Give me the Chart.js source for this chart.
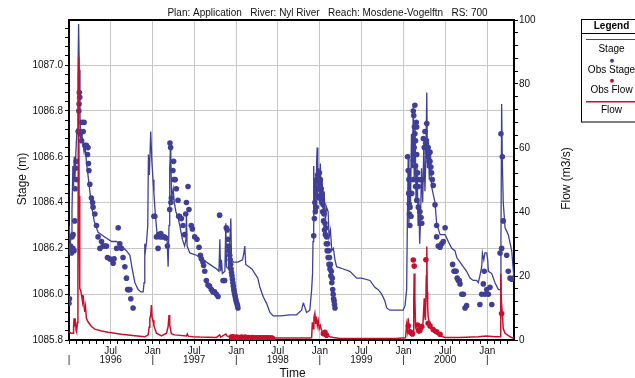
<!DOCTYPE html>
<html>
<head>
<meta charset="utf-8">
<title>Stage and Flow - Nyl River RS 700</title>
<script src="https://cdn.jsdelivr.net/npm/chart.js@4.4.1/dist/chart.umd.min.js"></script>
<style>
  html, body { margin: 0; padding: 0; background: #fff; }
  canvas { display: block; }
</style>
</head>
<body>
<canvas id="stage-chart" width="635" height="378"></canvas>
<script>
// values: [date, value]
const stageLine = [
  ['1996-01-02', 1086.30], ['1996-01-06', 1086.21], ['1996-01-10', 1086.26], ['1996-01-14', 1086.36],
  ['1996-01-18', 1086.56], ['1996-01-21', 1086.47], ['1996-01-24', 1086.60], ['1996-01-27', 1086.50],
  ['1996-01-31', 1086.62], ['1996-02-05', 1086.72], ['1996-02-09', 1086.95], ['1996-02-12', 1087.18],
  ['1996-02-15', 1086.98], ['1996-02-18', 1086.78], ['1996-02-22', 1086.66], ['1996-02-26', 1086.70],
  ['1996-03-02', 1086.66], ['1996-03-07', 1086.62], ['1996-03-12', 1086.64], ['1996-03-17', 1086.58],
  ['1996-03-24', 1086.52], ['1996-04-01', 1086.45], ['1996-04-08', 1086.39], ['1996-04-20', 1086.32],
  ['1996-05-07', 1086.27], ['1996-06-05', 1086.25], ['1996-07-05', 1086.23], ['1996-07-27', 1086.23],
  ['1996-08-17', 1086.21], ['1996-09-08', 1086.19], ['1996-09-23', 1086.17], ['1996-10-03', 1086.11],
  ['1996-10-15', 1086.05], ['1996-10-29', 1086.02], ['1996-11-10', 1086.01], ['1996-11-20', 1086.01],
  ['1996-11-24', 1086.05], ['1996-11-27', 1086.22], ['1996-11-30', 1086.19], ['1996-12-05', 1086.23],
  ['1996-12-10', 1086.30], ['1996-12-13', 1086.61], ['1996-12-17', 1086.52], ['1996-12-23', 1086.71],
  ['1996-12-28', 1086.58], ['1997-01-02', 1086.50], ['1997-01-06', 1086.44], ['1997-01-12', 1086.35],
  ['1997-01-20', 1086.26], ['1997-02-05', 1086.26], ['1997-02-25', 1086.25], ['1997-03-05', 1086.23],
  ['1997-03-09', 1086.12], ['1997-03-13', 1086.30], ['1997-03-16', 1086.55], ['1997-03-20', 1086.66],
  ['1997-03-24', 1086.42], ['1997-03-31', 1086.46], ['1997-04-05', 1086.40], ['1997-04-12', 1086.36],
  ['1997-04-20', 1086.34], ['1997-04-29', 1086.30], ['1997-05-10', 1086.24], ['1997-05-20', 1086.21],
  ['1997-05-26', 1086.24], ['1997-05-28', 1086.35], ['1997-05-31', 1086.21], ['1997-06-12', 1086.18],
  ['1997-07-11', 1086.17], ['1997-08-09', 1086.15], ['1997-09-07', 1086.13], ['1997-10-07', 1086.11],
  ['1997-10-17', 1086.10], ['1997-10-21', 1086.24], ['1997-10-24', 1086.10], ['1997-10-28', 1086.15],
  ['1997-11-01', 1086.09], ['1997-11-12', 1086.10], ['1997-11-16', 1086.31], ['1997-11-19', 1086.12],
  ['1997-11-28', 1086.11], ['1997-12-08', 1086.33], ['1997-12-11', 1086.15], ['1997-12-20', 1086.14],
  ['1998-01-08', 1086.14], ['1998-01-28', 1086.15], ['1998-02-03', 1086.18], ['1998-02-07', 1086.21],
  ['1998-02-11', 1086.13], ['1998-02-25', 1086.12], ['1998-03-10', 1086.11], ['1998-03-23', 1086.09],
  ['1998-04-05', 1086.07], ['1998-04-14', 1086.03], ['1998-04-28', 1085.99], ['1998-05-13', 1085.96],
  ['1998-05-28', 1085.92], ['1998-06-11', 1085.905], ['1998-07-15', 1085.905], ['1998-08-23', 1085.91],
  ['1998-09-21', 1085.91], ['1998-10-13', 1085.93], ['1998-10-20', 1085.96], ['1998-10-23', 1085.955],
  ['1998-11-04', 1085.92], ['1998-11-18', 1085.93], ['1998-11-26', 1086.02], ['1998-11-30', 1086.09],
  ['1998-12-02', 1086.23], ['1998-12-04', 1086.45], ['1998-12-06', 1086.56], ['1998-12-09', 1086.35],
  ['1998-12-12', 1086.50], ['1998-12-15', 1086.40], ['1998-12-18', 1086.58], ['1998-12-20', 1086.64],
  ['1998-12-23', 1086.45], ['1998-12-27', 1086.55], ['1998-12-31', 1086.40], ['1999-01-03', 1086.57],
  ['1999-01-07', 1086.42], ['1999-01-11', 1086.50], ['1999-01-16', 1086.35], ['1999-01-20', 1086.44],
  ['1999-01-25', 1086.32], ['1999-01-30', 1086.38], ['1999-02-06', 1086.36], ['1999-02-10', 1086.25],
  ['1999-02-16', 1086.28], ['1999-02-22', 1086.19], ['1999-03-01', 1086.20], ['1999-03-08', 1086.15],
  ['1999-03-15', 1086.12], ['1999-04-13', 1086.11], ['1999-05-12', 1086.10], ['1999-06-11', 1086.07],
  ['1999-07-02', 1086.07], ['1999-08-08', 1086.06], ['1999-08-29', 1086.03], ['1999-09-13', 1086.02],
  ['1999-09-28', 1086.00], ['1999-10-12', 1085.97], ['1999-10-20', 1085.94], ['1999-11-03', 1085.93],
  ['1999-12-31', 1085.93], ['2000-01-08', 1085.95], ['2000-01-15', 1086.02], ['2000-01-18', 1086.30],
  ['2000-01-22', 1086.61], ['2000-01-25', 1086.30], ['2000-01-28', 1086.55], ['2000-02-01', 1086.40],
  ['2000-02-05', 1086.70], ['2000-02-09', 1086.55], ['2000-02-13', 1086.82], ['2000-02-17', 1086.50],
  ['2000-02-21', 1086.72], ['2000-02-25', 1086.40], ['2000-03-01', 1086.55], ['2000-03-05', 1086.30],
  ['2000-03-08', 1086.42], ['2000-03-12', 1086.22], ['2000-03-16', 1086.34], ['2000-03-20', 1086.55],
  ['2000-03-25', 1086.40], ['2000-03-30', 1086.65], ['2000-04-04', 1086.45], ['2000-04-08', 1086.60],
  ['2000-04-12', 1086.88], ['2000-04-15', 1086.55], ['2000-04-19', 1086.68], ['2000-04-23', 1086.50],
  ['2000-04-28', 1086.62], ['2000-05-03', 1086.47], ['2000-05-18', 1086.40], ['2000-05-25', 1086.31],
  ['2000-06-09', 1086.26], ['2000-07-01', 1086.26], ['2000-07-15', 1086.23], ['2000-07-30', 1086.20],
  ['2000-08-13', 1086.19], ['2000-08-21', 1086.16], ['2000-09-04', 1086.14], ['2000-09-18', 1086.12],
  ['2000-10-03', 1086.10], ['2000-10-18', 1086.07], ['2000-11-01', 1086.06], ['2000-11-16', 1086.06],
  ['2000-11-23', 1086.05], ['2000-11-30', 1086.08], ['2000-12-08', 1086.12], ['2000-12-11', 1086.18],
  ['2000-12-17', 1086.15], ['2000-12-22', 1086.18], ['2000-12-30', 1086.18], ['2001-01-03', 1086.15],
  ['2001-01-06', 1086.10], ['2001-01-21', 1086.09], ['2001-02-04', 1086.05], ['2001-02-19', 1086.02],
  ['2001-02-26', 1086.02], ['2001-03-02', 1086.23], ['2001-03-05', 1086.83], ['2001-03-08', 1086.58],
  ['2001-03-12', 1086.40], ['2001-03-20', 1086.29], ['2001-04-03', 1086.26], ['2001-04-18', 1086.19],
  ['2001-04-27', 1086.08]
];

const obsStage = [
  ['1996-01-01', 1085.96], ['1996-01-03', 1085.98], ['1996-01-04', 1086.20], ['1996-01-08', 1086.21],
  ['1996-01-12', 1086.18], ['1996-01-14', 1086.25], ['1996-01-18', 1086.20], ['1996-01-19', 1086.26],
  ['1996-01-23', 1086.19], ['1996-01-26', 1086.32], ['1996-01-28', 1086.46], ['1996-01-30', 1086.55],
  ['1996-02-01', 1086.58], ['1996-02-03', 1086.50], ['1996-02-10', 1086.71], ['1996-02-13', 1086.80],
  ['1996-02-14', 1086.83], ['1996-02-15', 1086.88], ['1996-02-17', 1086.86], ['1996-02-19', 1086.70],
  ['1996-02-25', 1086.67], ['1996-02-27', 1086.75], ['1996-03-03', 1086.71], ['1996-03-07', 1086.75],
  ['1996-03-10', 1086.65], ['1996-03-17', 1086.65], ['1996-03-22', 1086.61], ['1996-03-24', 1086.64],
  ['1996-03-26', 1086.57], ['1996-03-28', 1086.54], ['1996-04-01', 1086.48], ['1996-04-08', 1086.42],
  ['1996-04-13', 1086.40], ['1996-04-15', 1086.38], ['1996-04-23', 1086.35], ['1996-04-30', 1086.30],
  ['1996-05-07', 1086.25], ['1996-05-15', 1086.20], ['1996-05-22', 1086.23], ['1996-05-29', 1086.21],
  ['1996-06-05', 1086.21], ['1996-06-13', 1086.21], ['1996-06-17', 1086.16], ['1996-06-27', 1086.155],
  ['1996-07-05', 1086.15], ['1996-07-12', 1086.135], ['1996-07-16', 1086.155], ['1996-07-27', 1086.20],
  ['1996-08-03', 1086.29], ['1996-08-10', 1086.22], ['1996-08-17', 1086.20], ['1996-08-24', 1086.16],
  ['1996-09-01', 1086.12], ['1996-09-08', 1086.07], ['1996-09-13', 1086.02], ['1996-09-18', 1086.02],
  ['1996-09-23', 1086.02], ['1996-09-27', 1085.98], ['1996-10-07', 1085.94],
  ['1997-01-06', 1086.34], ['1997-01-10', 1086.34], ['1997-01-17', 1086.25], ['1997-01-24', 1086.20],
  ['1997-01-27', 1086.26], ['1997-02-01', 1086.25], ['1997-02-05', 1086.265], ['1997-02-11', 1086.25],
  ['1997-02-20', 1086.25], ['1997-02-27', 1086.245], ['1997-03-06', 1086.21], ['1997-03-16', 1086.37],
  ['1997-03-17', 1086.66], ['1997-03-20', 1086.64], ['1997-03-21', 1086.40], ['1997-03-23', 1086.42],
  ['1997-03-30', 1086.54], ['1997-04-02', 1086.58], ['1997-04-03', 1086.50], ['1997-04-09', 1086.50],
  ['1997-04-14', 1086.46], ['1997-04-21', 1086.41], ['1997-04-24', 1086.34], ['1997-04-28', 1086.34],
  ['1997-05-06', 1086.33], ['1997-05-13', 1086.30], ['1997-05-20', 1086.26], ['1997-05-25', 1086.35],
  ['1997-05-28', 1086.40], ['1997-06-04', 1086.47], ['1997-06-08', 1086.37], ['1997-06-18', 1086.30],
  ['1997-06-23', 1086.285], ['1997-07-03', 1086.25], ['1997-07-13', 1086.24], ['1997-07-22', 1086.205],
  ['1997-07-28', 1086.17], ['1997-08-01', 1086.155], ['1997-08-08', 1086.14], ['1997-08-11', 1086.125],
  ['1997-08-16', 1086.10], ['1997-08-23', 1086.06], ['1997-08-30', 1086.04], ['1997-09-06', 1086.035],
  ['1997-09-14', 1086.02], ['1997-09-21', 1086.01], ['1997-09-28', 1086.01], ['1997-10-06', 1086.00],
  ['1997-10-13', 1085.99], ['1997-10-20', 1086.345], ['1997-11-04', 1086.06], ['1997-11-11', 1086.06],
  ['1997-11-18', 1086.29], ['1997-11-22', 1086.28], ['1997-11-25', 1086.24], ['1997-11-28', 1086.21],
  ['1997-12-01', 1086.19], ['1997-12-03', 1086.17], ['1997-12-05', 1086.15], ['1997-12-07', 1086.13],
  ['1997-12-09', 1086.11], ['1997-12-11', 1086.095], ['1997-12-13', 1086.08], ['1997-12-15', 1086.065],
  ['1997-12-17', 1086.05], ['1997-12-19', 1086.035], ['1997-12-21', 1086.02], ['1997-12-23', 1086.01],
  ['1997-12-25', 1086.00], ['1997-12-27', 1085.99], ['1997-12-29', 1085.98], ['1997-12-31', 1085.97],
  ['1998-01-03', 1085.96], ['1998-01-06', 1085.95], ['1998-01-08', 1085.94],
  ['1998-12-05', 1086.255], ['1998-12-08', 1086.33], ['1998-12-10', 1086.40], ['1998-12-12', 1086.36],
  ['1998-12-14', 1086.45], ['1998-12-16', 1086.38], ['1998-12-18', 1086.50], ['1998-12-20', 1086.43],
  ['1998-12-22', 1086.52], ['1998-12-24', 1086.46], ['1998-12-26', 1086.50], ['1998-12-28', 1086.42],
  ['1998-12-30', 1086.53], ['1999-01-01', 1086.47], ['1999-01-03', 1086.50], ['1999-01-05', 1086.42],
  ['1999-01-07', 1086.46], ['1999-01-09', 1086.40], ['1999-01-11', 1086.44], ['1999-01-13', 1086.36],
  ['1999-01-15', 1086.39], ['1999-01-17', 1086.32], ['1999-01-19', 1086.35], ['1999-01-21', 1086.28],
  ['1999-01-23', 1086.31], ['1999-01-25', 1086.26], ['1999-01-27', 1086.29], ['1999-01-29', 1086.22],
  ['1999-01-31', 1086.25], ['1999-02-02', 1086.19], ['1999-02-04', 1086.22], ['1999-02-06', 1086.16],
  ['1999-02-08', 1086.19], ['1999-02-10', 1086.13], ['1999-02-12', 1086.16], ['1999-02-14', 1086.11],
  ['1999-02-16', 1086.13], ['1999-02-18', 1086.08], ['1999-02-20', 1086.10], ['1999-02-22', 1086.05],
  ['1999-02-24', 1086.07], ['1999-02-26', 1086.02], ['1999-02-28', 1086.00], ['1999-03-02', 1085.98],
  ['1999-03-04', 1085.97], ['1999-03-06', 1085.955], ['1999-03-08', 1085.94],
  ['2000-01-19', 1086.60], ['2000-01-22', 1086.54], ['2000-01-24', 1086.44], ['2000-01-25', 1086.50],
  ['2000-01-26', 1086.395], ['2000-01-27', 1086.35], ['2000-01-29', 1086.30], ['2000-01-30', 1086.38],
  ['2000-02-03', 1086.34], ['2000-02-06', 1086.44], ['2000-02-13', 1086.80], ['2000-02-13', 1086.585],
  ['2000-02-13', 1086.50], ['2000-02-15', 1086.78], ['2000-02-17', 1086.64], ['2000-02-18', 1086.73],
  ['2000-02-20', 1086.825], ['2000-02-20', 1086.70], ['2000-02-23', 1086.67], ['2000-02-23', 1086.56],
  ['2000-02-23', 1086.47], ['2000-02-26', 1086.75], ['2000-02-28', 1086.73], ['2000-02-28', 1086.61],
  ['2000-02-28', 1086.41], ['2000-03-03', 1086.53], ['2000-03-06', 1086.47], ['2000-03-06', 1086.38],
  ['2000-03-09', 1086.50], ['2000-03-13', 1086.36], ['2000-03-18', 1086.335], ['2000-03-21', 1086.50],
  ['2000-03-21', 1086.31], ['2000-03-28', 1086.68], ['2000-04-01', 1086.64], ['2000-04-04', 1086.71],
  ['2000-04-07', 1086.66], ['2000-04-12', 1086.745], ['2000-04-15', 1086.62], ['2000-04-18', 1086.64],
  ['2000-04-18', 1086.60], ['2000-04-22', 1086.58], ['2000-04-26', 1086.62], ['2000-04-26', 1086.58],
  ['2000-04-30', 1086.555], ['2000-05-03', 1086.53], ['2000-05-06', 1086.50], ['2000-05-10', 1086.475],
  ['2000-05-18', 1086.39], ['2000-05-25', 1086.30], ['2000-05-25', 1086.25], ['2000-06-01', 1086.21],
  ['2000-06-09', 1086.205], ['2000-06-16', 1086.22], ['2000-06-23', 1086.23], ['2000-07-01', 1086.29],
  ['2000-08-03', 1086.13], ['2000-08-09', 1086.10], ['2000-08-13', 1086.10], ['2000-08-18', 1086.10],
  ['2000-08-23', 1086.07], ['2000-08-28', 1086.06], ['2000-09-01', 1086.06], ['2000-09-04', 1086.045],
  ['2000-09-12', 1086.00], ['2000-09-19', 1086.00], ['2000-09-26', 1085.94], ['2000-10-03', 1085.95],
  ['2000-11-30', 1085.955], ['2000-12-08', 1086.00], ['2000-12-15', 1086.045], ['2000-12-19', 1086.10],
  ['2000-12-22', 1086.00], ['2000-12-30', 1086.02], ['2001-01-06', 1086.00], ['2001-01-13', 1086.03],
  ['2001-01-21', 1085.955], ['2001-02-26', 1086.18], ['2001-03-02', 1086.70], ['2001-03-05', 1086.20],
  ['2001-03-08', 1086.60], ['2001-03-12', 1086.32], ['2001-03-27', 1086.17], ['2001-04-03', 1086.10],
  ['2001-04-11', 1086.07], ['2001-04-18', 1086.065], ['2001-04-25', 1086.07]
];

const flowLine = [
  ['1996-01-01', 2.6], ['1996-01-08', 2.2], ['1996-01-12', 2.1], ['1996-01-19', 2.1],
  ['1996-01-21', 4.0], ['1996-01-23', 6.8], ['1996-01-26', 5.0], ['1996-01-29', 5.7],
  ['1996-02-01', 3.0], ['1996-02-03', 2.6], ['1996-02-07', 5.5], ['1996-02-09', 20],
  ['1996-02-11', 70], ['1996-02-12', 88.5], ['1996-02-13', 80], ['1996-02-14', 45],
  ['1996-02-16', 25], ['1996-02-18', 16], ['1996-02-21', 15.6], ['1996-02-25', 14],
  ['1996-02-29', 12], ['1996-03-03', 14], ['1996-03-07', 10.4], ['1996-03-10', 8.8],
  ['1996-03-13', 10.4], ['1996-03-17', 6.8], ['1996-03-24', 5.7], ['1996-04-08', 4.2],
  ['1996-04-23', 3.4], ['1996-05-22', 2.8], ['1996-06-20', 2.4], ['1996-08-17', 1.8],
  ['1996-10-15', 1.3], ['1996-11-27', 1.0], ['1996-12-12', 1.6], ['1996-12-16', 4.0],
  ['1996-12-19', 6.8], ['1996-12-23', 7.8], ['1996-12-26', 10.9], ['1996-12-29', 7.0],
  ['1996-12-31', 6.5], ['1997-01-03', 6.2], ['1997-01-06', 4.5], ['1997-01-10', 3.6],
  ['1997-01-17', 2.1], ['1997-02-08', 1.3], ['1997-03-02', 2.1], ['1997-03-09', 4.2],
  ['1997-03-13', 7.8], ['1997-03-16', 4.7], ['1997-03-23', 2.0], ['1997-04-07', 1.6],
  ['1997-05-28', 1.25], ['1997-06-01', 1.9], ['1997-06-05', 1.2], ['1997-06-26', 1.0],
  ['1997-07-25', 0.9], ['1997-10-06', 0.8], ['1997-10-20', 1.6], ['1997-10-25', 0.9],
  ['1997-11-16', 1.9], ['1997-11-22', 1.2], ['1997-12-18', 1.0], ['1998-01-15', 0.7],
  ['1998-06-10', 0.6], ['1998-11-20', 0.6], ['1998-11-26', 0.8], ['1998-11-29', 5.5],
  ['1998-12-02', 3.5], ['1998-12-06', 7.0], ['1998-12-10', 8.3], ['1998-12-14', 5.0],
  ['1998-12-17', 7.3], ['1998-12-21', 4.5], ['1998-12-25', 6.0], ['1998-12-29', 3.5],
  ['1999-01-03', 4.5], ['1999-01-09', 2.8], ['1999-01-16', 2.0], ['1999-01-23', 2.4],
  ['1999-01-30', 1.5], ['1999-02-14', 1.0], ['1999-02-28', 0.8], ['1999-03-30', 0.5],
  ['1999-08-01', 0.5], ['1999-12-01', 0.5], ['2000-01-10', 0.7], ['2000-01-15', 4.7],
  ['2000-01-18', 3.0], ['2000-01-22', 6.8], ['2000-01-26', 3.5], ['2000-01-30', 3.1],
  ['2000-02-06', 1.6], ['2000-02-13', 2.1], ['2000-02-15', 12], ['2000-02-17', 20.8],
  ['2000-02-20', 13], ['2000-02-23', 4.2], ['2000-02-28', 2.6], ['2000-03-09', 2.1],
  ['2000-03-21', 2.6], ['2000-03-26', 5.0], ['2000-03-28', 7.3], ['2000-04-01', 13],
  ['2000-04-04', 7.3], ['2000-04-06', 6.2], ['2000-04-10', 20], ['2000-04-12', 29.2],
  ['2000-04-14', 15], ['2000-04-16', 10.4], ['2000-04-18', 7.3], ['2000-04-26', 4.2],
  ['2000-05-10', 2.6], ['2000-06-01', 1.6], ['2000-07-01', 0.8], ['2000-09-01', 0.8],
  ['2000-11-23', 1.0], ['2000-12-15', 1.2], ['2000-12-30', 1.25], ['2001-02-04', 1.0],
  ['2001-02-26', 1.0], ['2001-02-28', 5.0], ['2001-03-02', 20.8], ['2001-03-04', 12],
  ['2001-03-08', 8.3], ['2001-03-12', 3.6], ['2001-03-20', 2.1], ['2001-04-11', 1.0],
  ['2001-04-27', 0.5]
];

const obsFlow = [
  ['1997-12-10', 0.9], ['1997-12-14', 0.7], ['1997-12-18', 1.0], ['1997-12-22', 0.6],
  ['1997-12-26', 0.8], ['1997-12-30', 0.5], ['1998-01-03', 0.9], ['1998-01-07', 0.6],
  ['1998-01-11', 0.8], ['1998-01-15', 0.5], ['1998-01-19', 0.7], ['1998-01-23', 0.9],
  ['1998-01-27', 0.5], ['1998-01-31', 0.7], ['1998-02-04', 0.6], ['1998-02-08', 0.9],
  ['1998-02-12', 0.5], ['1998-02-16', 0.7], ['1998-02-20', 0.6], ['1998-02-24', 0.8],
  ['1998-02-28', 0.5], ['1998-03-04', 0.7], ['1998-03-08', 0.6], ['1998-03-12', 0.8],
  ['1998-03-16', 0.5], ['1998-03-20', 0.7], ['1998-03-24', 0.6], ['1998-03-28', 0.5],
  ['1998-04-01', 0.7], ['1998-04-05', 0.6], ['1998-04-09', 0.5], ['1998-04-13', 0.7],
  ['1998-04-17', 0.6], ['1998-04-21', 0.5], ['1998-04-25', 0.6], ['1998-04-29', 0.7],
  ['1998-05-03', 0.5], ['1998-05-07', 0.6], ['1998-05-11', 0.5], ['1998-05-15', 0.7],
  ['1998-05-19', 0.6], ['1998-05-23', 0.5], ['1998-05-27', 0.6], ['1998-05-31', 0.5],
  ['1998-06-04', 0.6], ['1998-06-08', 0.5],
  ['1999-01-16', 2.0], ['1999-01-23', 2.4], ['1999-01-30', 1.5],
  ['2000-01-22', 4.4], ['2000-01-30', 2.6], ['2000-02-03', 2.3], ['2000-02-09', 1.9],
  ['2000-02-13', 25.0], ['2000-02-17', 23.1], ['2000-03-03', 4.7], ['2000-03-09', 3.1],
  ['2000-03-21', 4.2], ['2000-04-08', 25.1], ['2000-04-18', 5.2], ['2000-04-26', 4.4],
  ['2000-05-10', 3.3], ['2000-05-25', 2.6], ['2000-06-09', 1.8],
  ['2001-03-05', 8.3]
];

const monthNames = { 0: 'Jan', 6: 'Jul' };
const titleText = 'Plan: Application   River: Nyl River   Reach: Mosdene-Vogelftn   RS: 700';

const BLUE = '#3f3f96';
const RED = '#c8102e';
const GRID = '#c6c6c6';
const FONT = '"Liberation Sans", Arial, Helvetica, sans-serif';

const T0 = Date.UTC(1996, 0, 1);
const T1 = Date.UTC(2001, 3, 28);

const toTime = (s) => {
  const [y, m, d] = s.split('-').map(Number);
  return Date.UTC(y, m - 1, d);
};
const toPoints = (rows) => rows.map(([d, v]) => ({ x: toTime(d), y: v }));

// axis ticks: every month on x, 0.04 m on stage, 4 m3/s on flow
const monthTicks = [];
for (let y = 1996; y <= 2001; y++) {
  for (let m = 0; m < 12; m++) {
    const t = Date.UTC(y, m, 1);
    if (t >= T0 && t <= T1) monthTicks.push(t);
  }
}
const stageTicks = [];
for (let i = 0; i <= 34; i++) stageTicks.push(+(1085.8 + i * 0.04).toFixed(2));
const flowTicks = [];
for (let v = 0; v <= 100; v += 4) flowTicks.push(v);

const isMajorStage = (v) => Math.round(v * 100) % 20 === 0;
const isMajorMonth = (t) => {
  const m = new Date(t).getUTCMonth();
  return m === 0 || m === 6;
};

const xLabel = (t) => {
  const d = new Date(t);
  const m = d.getUTCMonth(), y = d.getUTCFullYear();
  if (m === 0) return y === 1996 ? ['', '|'] : [monthNames[0], '|'];
  if (m === 6) return [monthNames[6], String(y)];
  return '';
};

const decorations = {
  id: 'decorations',
  afterDraw(chart) {
    const { ctx, chartArea: a } = chart;
    ctx.save();

    // top frame line
    ctx.strokeStyle = '#000';
    ctx.lineWidth = 2;
    ctx.beginPath();
    ctx.moveTo(a.left - 1, a.top);
    ctx.lineTo(a.right + 1, a.top);
    ctx.stroke();

    ctx.fillStyle = '#111';
    ctx.textBaseline = 'alphabetic';
    ctx.textAlign = 'center';
    ctx.font = '10px ' + FONT;
    ctx.fillText(titleText, 327.5, 16);

    ctx.font = '12px ' + FONT;
    ctx.fillText('Time', 292.5, 377);

    ctx.save();
    ctx.translate(25.5, 179);
    ctx.rotate(-Math.PI / 2);
    ctx.fillText('Stage (m)', 0, 0);
    ctx.restore();

    ctx.save();
    ctx.translate(570, 178.5);
    ctx.rotate(-Math.PI / 2);
    ctx.fillText('Flow (m3/s)', 0, 0);
    ctx.restore();

    // legend box, runs off the right edge like the original
    const lx = 581.5, cx = 611.5;
    ctx.strokeStyle = '#000';
    ctx.lineWidth = 1;
    ctx.strokeRect(lx, 19.5, 80, 102.5);
    ctx.beginPath();
    ctx.moveTo(lx, 33.5);
    ctx.lineTo(lx + 80, 33.5);
    ctx.stroke();

    ctx.fillStyle = '#000';
    ctx.font = 'bold 10px ' + FONT;
    ctx.fillText('Legend', cx, 29);

    ctx.font = '10px ' + FONT;
    ctx.strokeStyle = BLUE;
    ctx.lineWidth = 1.2;
    ctx.beginPath();
    ctx.moveTo(586, 39.5);
    ctx.lineTo(640, 39.5);
    ctx.stroke();
    ctx.fillText('Stage', cx, 52.3);

    ctx.fillStyle = BLUE;
    ctx.beginPath();
    ctx.arc(612, 60.7, 2, 0, Math.PI * 2);
    ctx.fill();
    ctx.fillStyle = '#000';
    ctx.fillText('Obs Stage', cx, 72.9);

    ctx.fillStyle = RED;
    ctx.beginPath();
    ctx.arc(612, 80.7, 2, 0, Math.PI * 2);
    ctx.fill();
    ctx.fillStyle = '#000';
    ctx.fillText('Obs Flow', cx, 93.2);

    ctx.strokeStyle = RED;
    ctx.lineWidth = 1.5;
    ctx.beginPath();
    ctx.moveTo(586, 101.7);
    ctx.lineTo(640, 101.7);
    ctx.stroke();
    ctx.fillText('Flow', cx, 113.2);

    ctx.restore();
  }
};

Chart.defaults.font.family = FONT;
Chart.defaults.font.size = 10;
Chart.defaults.color = '#111';

new Chart(document.getElementById('stage-chart'), {
  type: 'line',
  data: {
    datasets: [
      {
        label: 'Stage',
        data: toPoints(stageLine),
        yAxisID: 'y',
        borderColor: BLUE,
        borderWidth: 1.3,
        pointRadius: 0,
        order: 4
      },
      {
        label: 'Obs Stage',
        data: toPoints(obsStage),
        yAxisID: 'y',
        showLine: false,
        pointRadius: 2.8,
        pointBorderWidth: 0,
        pointBackgroundColor: BLUE,
        borderColor: BLUE,
        order: 3
      },
      {
        label: 'Flow',
        data: toPoints(flowLine),
        yAxisID: 'y1',
        borderColor: RED,
        borderWidth: 1.5,
        pointRadius: 0,
        order: 2
      },
      {
        label: 'Obs Flow',
        data: toPoints(obsFlow),
        yAxisID: 'y1',
        showLine: false,
        pointRadius: 2.8,
        pointBorderWidth: 0,
        pointBackgroundColor: RED,
        borderColor: RED,
        order: 1
      }
    ]
  },
  options: {
    responsive: false,
    animation: false,
    events: [],
    layout: { padding: { top: 20, left: 0, right: 0, bottom: 0 } },
    plugins: {
      legend: { display: false },
      tooltip: { enabled: false }
    },
    scales: {
      x: {
        type: 'linear',
        min: T0,
        max: T1,
        afterBuildTicks: (s) => { s.ticks = monthTicks.map(v => ({ value: v })); },
        afterFit: (s) => { s.height = 38; },
        ticks: {
          autoSkip: false,
          maxRotation: 0,
          padding: 2,
          font: { size: 10, lineHeight: 0.95 },
          callback: (v) => xLabel(v)
        },
        grid: {
          color: (c) => (c.tick && isMajorMonth(c.tick.value) ? GRID : 'transparent'),
          lineWidth: 1,
          tickColor: '#000',
          tickLength: 4
        },
        border: { color: '#000', width: 2 }
      },
      y: {
        position: 'left',
        min: 1085.8,
        max: 1087.197,
        afterBuildTicks: (s) => { s.ticks = stageTicks.map(v => ({ value: v })); },
        afterFit: (s) => { s.width = 69; },
        ticks: {
          autoSkip: false,
          padding: 2,
          callback: (v) => (isMajorStage(v) ? v.toFixed(1) : '')
        },
        grid: {
          color: (c) => (c.tick && isMajorStage(c.tick.value) ? GRID : 'transparent'),
          lineWidth: 1,
          tickColor: '#000',
          tickLength: 4
        },
        border: { color: '#000', width: 2 }
      },
      y1: {
        position: 'right',
        min: 0,
        max: 100,
        afterBuildTicks: (s) => { s.ticks = flowTicks.map(v => ({ value: v })); },
        afterFit: (s) => { s.width = 121; },
        ticks: {
          autoSkip: false,
          padding: 1,
          callback: (v) => (v % 20 === 0 ? String(v) : '')
        },
        grid: {
          drawOnChartArea: false,
          tickColor: '#000',
          tickLength: 4
        },
        border: { color: '#000', width: 2 }
      }
    }
  },
  plugins: [decorations]
});
</script>
</body>
</html>
